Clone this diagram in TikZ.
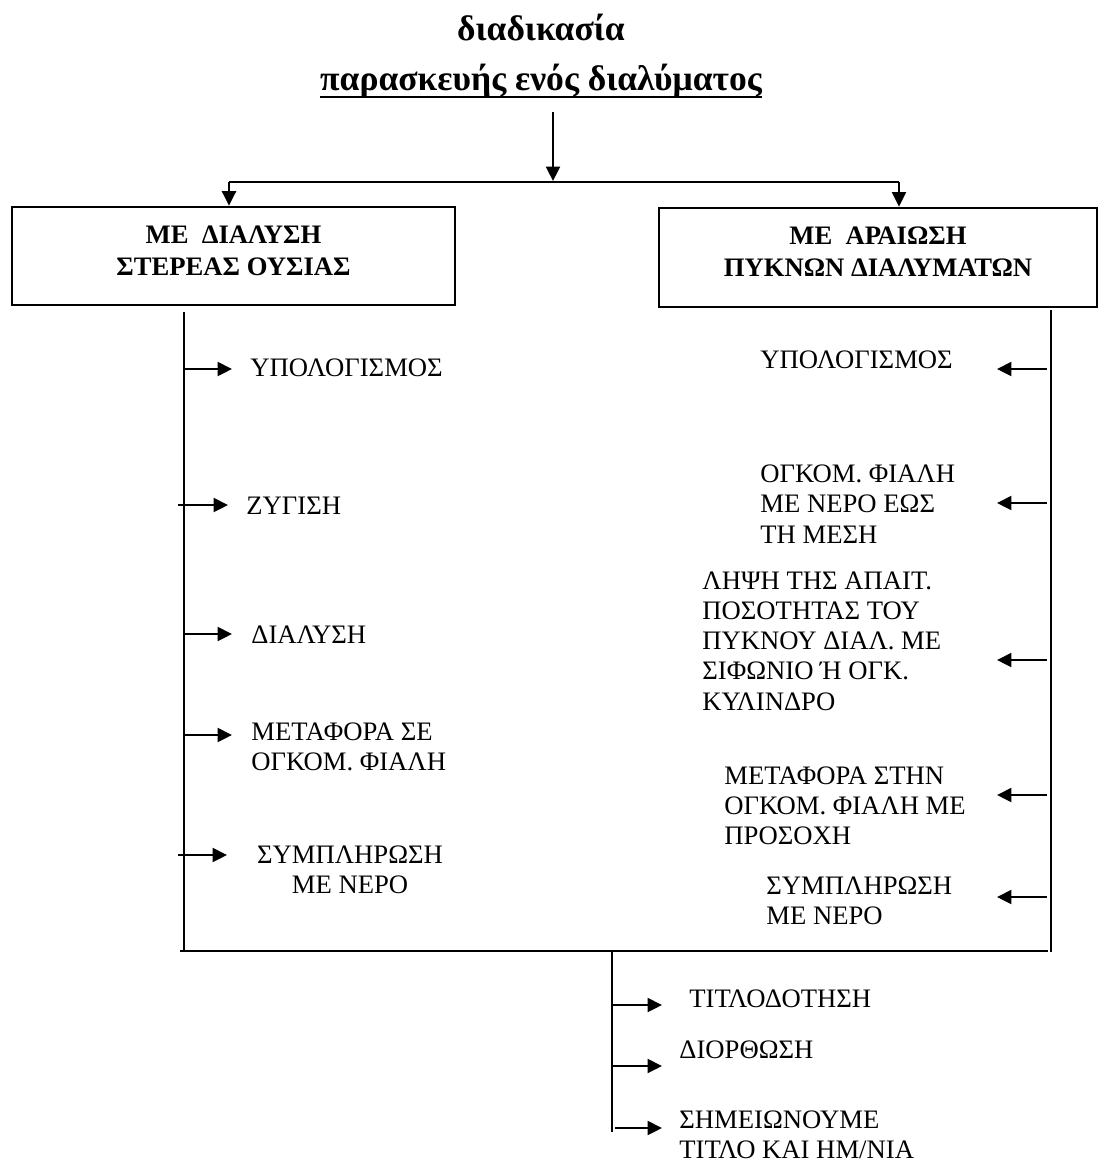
\documentclass[tikz,border=0pt]{standalone}
\usepackage{fontspec}
\setmainfont{Liberation Serif}
\usetikzlibrary{arrows.meta}
\begin{document}
\begin{tikzpicture}[x=0.45pt,y=-0.45pt,
  ln/.style={line width=0.9pt},
  arr/.style={line width=0.9pt,-{Triangle[length=6.5pt,width=6.3pt]}},
  txt/.style={inner sep=0pt,anchor=west,align=left,font=\fontsize{12}{13.6}\selectfont},
  ttl/.style={inner sep=0pt,anchor=base,font=\bfseries\fontsize{16}{19}\selectfont},
  boxn/.style={draw,line width=1.2pt,inner sep=0pt},
  boxt/.style={align=center,inner sep=0pt,font=\bfseries\fontsize{12}{14.4}\selectfont}]
\useasboundingbox (0,0) rectangle (1098,1160);
% titles
\node[ttl] (t1) at (541,40) {διαδικασία};
\node[ttl] (t2) at (541,90) {παρασκευής ενός διαλύματος};
\draw[line width=1pt] ([yshift=-3.2pt]t2.base west) -- ([yshift=-3.2pt]t2.base east);
% boxes
\node[boxn,minimum width=199.4pt,minimum height=44.1pt] (lb) at (233.5,256) {};
\node[boxt] (lbt) at ([yshift=2.3pt]lb.center) {ΜΕ\ \ ΔΙΑΛΥΣΗ\\ΣΤΕΡΕΑΣ ΟΥΣΙΑΣ};
\node[boxn,minimum width=197.1pt,minimum height=44.6pt] (rb) at (878,257.5) {};
\node[boxt] (rbtx) at ([yshift=2.6pt]rb.center) {ΜΕ\ \ ΑΡΑΙΩΣΗ\\ΠΥΚΝΩΝ ΔΙΑΛΥΜΑΤΩΝ};
% top connectors
\coordinate (ts) at (553,112);
\coordinate (tj) at (553,181);
\coordinate (hl) at (229,182);
\coordinate (hr) at (899,182);
\draw[arr] (ts) -- (tj);
\draw[ln] (hl) -- (hr);
\draw[arr] (hl) -- (hl |- lb.north);
\draw[arr] (hr) -- (hr |- rb.north);
% left column
\coordinate (lt) at (184,312);
\coordinate (lbot) at (184,952);
\draw[ln] (lt) -- (lbot);
\node[txt] (l1) at (250,368) {ΥΠΟΛΟΓΙΣΜΟΣ};
\node[txt] (l2) at (246,506) {ΖΥΓΙΣΗ};
\node[txt] (l3) at (251,635) {ΔΙΑΛΥΣΗ};
\node[txt] (l4) at (251,747) {ΜΕΤΑΦΟΡΑ ΣΕ\\ΟΓΚΟΜ. ΦΙΑΛΗ};
\node[txt,anchor=center,align=center] (l5) at (350,870) {ΣΥΜΠΛΗΡΩΣΗ\\ΜΕ ΝΕΡΟ};
\draw[arr] (184,369) -- (232,369);
\draw[arr] (178,505) -- (228,505);
\draw[arr] (184,634) -- (232,634);
\draw[arr] (183,735) -- (232,735);
\draw[arr] (178,855) -- (227,855);
% bottom horizontal
\coordinate (bl) at (180,951);
\coordinate (br) at (1048,951);
\draw[ln] (bl) -- (br);
% right column
\coordinate (rt) at (1051,310);
\coordinate (rbot) at (1051,952);
\draw[ln] (rt) -- (rbot);
\node[txt] (r1) at (760,360) {ΥΠΟΛΟΓΙΣΜΟΣ};
\node[txt] (r2) at (760,504) {ΟΓΚΟΜ. ΦΙΑΛΗ\\ΜΕ ΝΕΡΟ ΕΩΣ\\ΤΗ ΜΕΣΗ};
\node[txt] (r3) at (702,641) {ΛΗΨΗ ΤΗΣ ΑΠΑΙΤ.\\ΠΟΣΟΤΗΤΑΣ ΤΟΥ\\ΠΥΚΝΟΥ ΔΙΑΛ. ΜΕ\\ΣΙΦΩΝΙΟ Ή ΟΓΚ.\\ΚΥΛΙΝΔΡΟ};
\node[txt] (r4) at (724,806) {ΜΕΤΑΦΟΡΑ ΣΤΗΝ\\ΟΓΚΟΜ. ΦΙΑΛΗ ΜΕ\\ΠΡΟΣΟΧΗ};
\node[txt] (r5) at (766,901) {ΣΥΜΠΛΗΡΩΣΗ\\ΜΕ ΝΕΡΟ};
\draw[arr] (1047,369) -- (997,369);
\draw[arr] (1047,503) -- (997,503);
\draw[arr] (1047,660) -- (997,660);
\draw[arr] (1047,795) -- (997,795);
\draw[arr] (1047,897) -- (997,897);
% bottom column
\coordinate (bt) at (612,952);
\coordinate (bb) at (612,1132);
\draw[ln] (bt) -- (bb);
\node[txt] (b1) at (689,999) {ΤΙΤΛΟΔΟΤΗΣΗ};
\node[txt] (b2) at (679,1050) {ΔΙΟΡΘΩΣΗ};
\node[txt] (b3) at (679,1135) {ΣΗΜΕΙΩΝΟΥΜΕ\\ΤΙΤΛΟ ΚΑΙ ΗΜ/ΝΙΑ};
\draw[arr] (612,1005) -- (662,1005);
\draw[arr] (612,1066) -- (662,1066);
\draw[arr] (615,1128) -- (662,1128);
\end{tikzpicture}
\end{document}
